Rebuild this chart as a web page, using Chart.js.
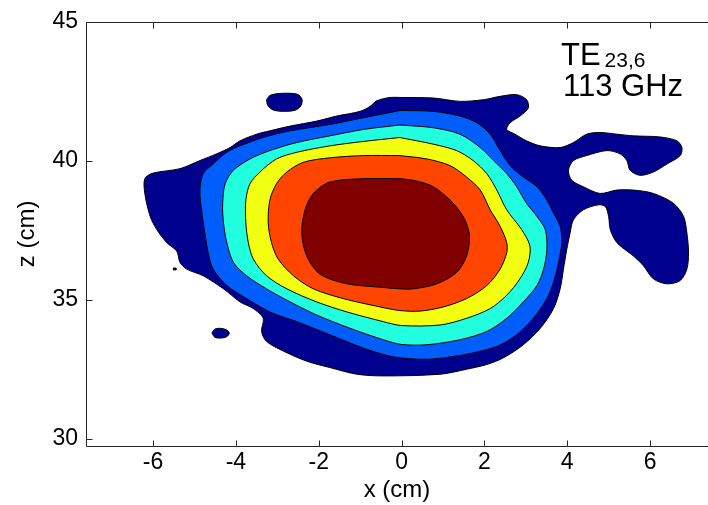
<!DOCTYPE html>
<html>
<head>
<meta charset="utf-8">
<script src="https://cdn.jsdelivr.net/npm/chart.js@4.4.1/dist/chart.umd.min.js"></script>
<style>
  html, body { margin: 0; padding: 0; background: #fff; }
  #wrap { width: 708px; height: 505px; }
</style>
</head>
<body>
<div id="wrap"><canvas id="grafico" width="708" height="505"></canvas></div>
<script>
// TE23,6 at 113 GHz - filled contour levels, outlines as [x (cm), z (cm)]
const xTicks = [-6, -4, -2, 0, 2, 4, 6];
const zTicks = [30, 35, 40, 45];

const level6Outline = [
    [-0.04, 39.36], [-0.92, 39.36], [-1.73, 39.24], [-2.13, 38.83], [-2.33, 38.24], [-2.41, 37.41],
    [-2.29, 36.58], [-1.97, 35.93], [-1.32, 35.58], [-0.52, 35.46], [-0.04, 35.40], [0.29, 35.40],
    [0.85, 35.58], [1.33, 35.99], [1.57, 36.58], [1.64, 37.29], [1.53, 37.88], [1.25, 38.47],
    [0.77, 39.07], [0.29, 39.30], [-0.04, 39.36]
];
const level5Outline = [
    [-0.04, 40.19], [-0.92, 40.19], [-1.73, 40.11], [-2.37, 39.95], [-2.77, 39.60], [-3.02, 39.18],
    [-3.18, 38.59], [-3.22, 37.77], [-3.14, 37.06], [-2.98, 36.47], [-2.61, 35.87], [-2.13, 35.40],
    [-1.41, 35.05], [-0.52, 34.75], [-0.04, 34.62], [0.45, 34.60], [1.01, 34.75], [1.57, 35.05],
    [2.06, 35.52], [2.38, 36.11], [2.54, 36.70], [2.54, 37.06], [2.38, 37.65], [2.14, 38.24],
    [1.90, 38.95], [1.57, 39.42], [1.17, 39.83], [0.61, 40.07], [-0.04, 40.19]
];
const level4Outline = [
    [-0.04, 40.84], [-0.92, 40.70], [-1.73, 40.54], [-2.53, 40.31], [-3.02, 40.07], [-3.42, 39.60],
    [-3.66, 39.18], [-3.76, 38.59], [-3.76, 37.77], [-3.70, 37.06], [-3.58, 36.47], [-3.26, 35.87],
    [-2.77, 35.40], [-2.05, 34.93], [-1.32, 34.57], [-0.44, 34.22], [0.00, 34.08], [0.93, 34.10],
    [1.57, 34.34], [2.14, 34.69], [2.54, 35.17], [2.86, 35.76], [3.06, 36.35], [3.10, 36.94],
    [2.90, 37.53], [2.54, 38.24], [2.30, 38.95], [2.06, 39.54], [1.73, 40.01], [1.33, 40.37],
    [0.77, 40.60], [-0.04, 40.84]
];
const level3Outline = [
    [-0.04, 41.29], [-0.92, 41.13], [-1.73, 40.90], [-2.53, 40.66], [-3.18, 40.37], [-3.66, 40.07],
    [-4.06, 39.66], [-4.26, 39.18], [-4.32, 38.47], [-4.30, 37.77], [-4.22, 37.06], [-4.06, 36.35],
    [-3.74, 35.87], [-3.26, 35.40], [-2.69, 34.93], [-2.05, 34.46], [-1.24, 33.98], [-0.44, 33.57],
    [0.00, 33.40], [0.61, 33.39], [1.41, 33.57], [2.06, 33.87], [2.54, 34.34], [2.94, 34.93],
    [3.27, 35.52], [3.43, 36.11], [3.51, 36.82], [3.47, 37.53], [3.27, 38.00], [3.02, 38.47],
    [2.78, 39.07], [2.54, 39.54], [2.22, 40.01], [1.90, 40.48], [1.41, 40.96], [0.77, 41.19],
    [-0.04, 41.29]
];
const level2Outline = [
    [-0.04, 41.81], [-0.92, 41.55], [-1.73, 41.31], [-2.69, 41.08], [-3.34, 40.84], [-3.90, 40.54],
    [-4.22, 40.31], [-4.55, 39.89], [-4.79, 39.54], [-4.87, 38.95], [-4.83, 38.24], [-4.75, 37.41],
    [-4.67, 36.70], [-4.55, 36.11], [-4.22, 35.52], [-3.74, 35.05], [-3.18, 34.57], [-2.53, 34.22],
    [-1.73, 33.75], [-0.92, 33.27], [-0.28, 32.98], [0.30, 32.88], [0.77, 32.88], [1.57, 33.05],
    [2.30, 33.33], [2.78, 33.75], [3.18, 34.34], [3.51, 35.05], [3.67, 35.64], [3.79, 36.35],
    [3.87, 37.06], [3.83, 37.65], [3.67, 38.12], [3.51, 38.59], [3.27, 39.07], [2.94, 39.42],
    [2.62, 39.83], [2.38, 40.37], [2.14, 40.96], [1.82, 41.37], [1.41, 41.61], [0.77, 41.78],
    [-0.04, 41.81]
];
const level1Outline = [
    [-0.04, 42.28], [-0.28, 42.28], [-0.60, 42.16], [-0.76, 41.96], [-1.00, 41.78], [-1.57, 41.61],
    [-2.05, 41.43], [-2.69, 41.25], [-3.18, 41.08], [-3.50, 40.96], [-3.90, 40.72], [-4.14, 40.48],
    [-4.47, 40.25], [-4.87, 40.01], [-5.35, 39.72], [-6.00, 39.56], [-6.20, 39.36], [-6.20, 38.83],
    [-6.07, 38.00], [-5.91, 37.53], [-5.67, 37.06], [-5.43, 36.76], [-5.35, 36.35], [-5.19, 36.11],
    [-4.79, 35.87], [-4.30, 35.40], [-3.90, 34.93], [-3.58, 34.69], [-3.34, 34.34], [-3.38, 33.87],
    [-3.26, 33.51], [-2.85, 33.16], [-2.29, 32.80], [-1.73, 32.57], [-1.08, 32.33], [-0.44, 32.27],
    [0.93, 32.33], [1.57, 32.51], [2.06, 32.68], [2.46, 32.92], [2.94, 33.39], [3.35, 33.98],
    [3.67, 34.69], [3.83, 35.40], [3.91, 36.11], [3.99, 36.82], [4.07, 37.41], [4.15, 37.88],
    [4.39, 38.24], [4.75, 38.42], [4.92, 38.36], [5.00, 38.00], [5.04, 37.53], [5.20, 37.06],
    [5.60, 36.58], [5.84, 36.23], [6.08, 35.76], [6.41, 35.58], [6.73, 35.70], [6.89, 36.11],
    [6.93, 36.70], [6.89, 37.41], [6.81, 38.00], [6.57, 38.47], [6.08, 38.83], [5.60, 38.95],
    [5.20, 38.95], [4.79, 38.83], [4.39, 39.07], [4.11, 39.30], [4.03, 39.66], [4.15, 40.01],
    [4.47, 40.19], [4.96, 40.37], [5.28, 40.25], [5.44, 40.01], [5.52, 39.66], [5.76, 39.48],
    [6.08, 39.60], [6.41, 39.89], [6.73, 40.19], [6.77, 40.48], [6.65, 40.72], [6.24, 40.86],
    [5.60, 40.90], [5.20, 40.96], [4.79, 41.02], [4.47, 40.96], [4.15, 40.66], [3.83, 40.48],
    [3.35, 40.54], [3.02, 40.72], [2.74, 40.96], [2.54, 41.13], [2.62, 41.37], [2.86, 41.61],
    [3.06, 41.90], [3.02, 42.20], [2.78, 42.38], [2.38, 42.32], [1.98, 42.20], [1.41, 42.14],
    [0.77, 42.26], [-0.04, 42.28]
];
// small islands of the lowest level
const islandTop = [
    [-3.26, 42.20], [-3.18, 42.35], [-2.98, 42.42], [-2.69, 42.43], [-2.49, 42.38], [-2.40, 42.20],
    [-2.44, 41.96], [-2.57, 41.82], [-2.85, 41.78], [-3.10, 41.83], [-3.23, 41.99], [-3.26, 42.20]
];
const islandLow = [
    [-4.58, 33.81], [-4.51, 33.95], [-4.37, 33.98], [-4.22, 33.92], [-4.16, 33.81], [-4.22, 33.68],
    [-4.37, 33.63], [-4.51, 33.66], [-4.58, 33.81]
];
const islandDot = [
    [-5.51, 36.15], [-5.45, 36.15], [-5.45, 36.08], [-5.51, 36.08], [-5.51, 36.15]
];

const outlines = [level6Outline, level5Outline, level4Outline, level3Outline, level2Outline, level1Outline,
    islandTop, islandLow, islandDot];
const levelColors = ['#800000', '#ff4500', '#f2ff10', '#22ffdf', '#005eff', '#00008f',
    '#00008f', '#00008f', '#00008f'];

const fonte = '"Liberation Sans", Arial, Helvetica, sans-serif';

const toPoints = arr => arr.map(p => ({ x: p[0], y: p[1] }));

// box lines, inward ticks and the mode label
const molduraPlugin = {
    id: 'moldura',
    afterDatasetsDraw(chart) {
        const { ctx, chartArea: a, scales: { x, y } } = chart;
        const L = Math.round(a.left) + 0.5;
        const B = Math.round(a.bottom) + 0.5;
        const T = Math.round(a.top) + 0.5;
        ctx.save();
        ctx.strokeStyle = '#262626';
        ctx.lineWidth = 1;
        ctx.beginPath();
        ctx.moveTo(a.right, T);
        ctx.lineTo(L, T);
        ctx.lineTo(L, B);
        ctx.lineTo(a.right, B);
        xTicks.forEach(v => {
            const px = Math.round(x.getPixelForValue(v)) + 0.5;
            ctx.moveTo(px, B); ctx.lineTo(px, B - 6);
            ctx.moveTo(px, T); ctx.lineTo(px, T + 6);
        });
        zTicks.forEach(v => {
            const py = Math.round(y.getPixelForValue(v)) + 0.5;
            ctx.moveTo(L, py); ctx.lineTo(L + 6, py);
        });
        ctx.stroke();

        ctx.fillStyle = '#000';
        ctx.textBaseline = 'alphabetic';
        ctx.textAlign = 'left';
        const tx = x.getPixelForValue(3.85);
        ctx.font = '31px ' + fonte;
        ctx.fillText('TE', tx, y.getPixelForValue(43.44));
        const w = ctx.measureText('TE').width;
        ctx.font = '21px ' + fonte;
        ctx.fillText('23,6', tx + w + 4, y.getPixelForValue(43.38));
        ctx.font = '31px ' + fonte;
        ctx.fillText('113 GHz', x.getPixelForValue(3.9), y.getPixelForValue(42.34));
        ctx.restore();
    }
};

new Chart(document.getElementById('grafico'), {
    type: 'scatter',
    data: {
        datasets: outlines.map((o, i) => ({
            data: toPoints(o),
            showLine: true,
            fill: 'shape',
            backgroundColor: levelColors[i],
            borderColor: '#000',
            borderWidth: 1,
            pointRadius: 0,
            tension: o.length > 6 ? 0.3 : 0
        }))
    },
    options: {
        responsive: false,
        animation: false,
        layout: { padding: { top: 16, right: 0, left: 0, bottom: 0 } },
        plugins: {
            legend: { display: false },
            tooltip: { enabled: false },
            filler: { propagate: false }
        },
        scales: {
            x: {
                type: 'linear',
                min: -7.62,
                max: 7.40,
                afterBuildTicks: s => { s.ticks = xTicks.map(v => ({ value: v })); },
                afterFit: s => { s.height = 59; },
                grid: { display: false, drawTicks: false },
                border: { display: false },
                ticks: { color: '#000', font: { family: fonte, size: 23 }, padding: 3, maxRotation: 0, autoSkip: false },
                title: { display: true, text: 'x (cm)', color: '#000', font: { family: fonte, size: 24 }, padding: { top: 0, bottom: 0 } }
            },
            y: {
                type: 'linear',
                min: 29.75,
                max: 45,
                afterBuildTicks: s => { s.ticks = zTicks.map(v => ({ value: v })); },
                afterFit: s => { s.width = 86; },
                grid: { display: false, drawTicks: false },
                border: { display: false },
                ticks: { color: '#000', font: { family: fonte, size: 23 }, padding: 8, autoSkip: false },
                title: { display: true, text: 'z (cm)', color: '#000', font: { family: fonte, size: 24 }, padding: { top: 13, bottom: 0 } }
            }
        }
    },
    plugins: [molduraPlugin]
});
</script>
</body>
</html>
